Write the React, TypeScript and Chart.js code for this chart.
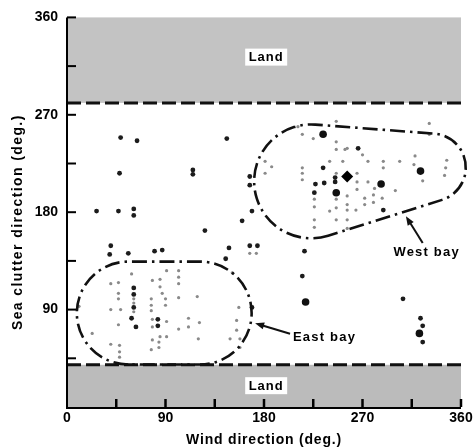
import React, { useEffect, useRef } from "react";
import { Chart, registerables } from "chart.js";

Chart.register(...registerables);

// ---- data (degrees) ----
const xTickValues = [0, 90, 180, 270, 360];
const yTickValues = [90, 180, 270, 360];
const minorTickValues = [45, 90, 135, 180, 225, 270, 315, 360];

const landTop = [281, 360];
const landBottom = [0, 39];

const smallDots = [
  // west bay cluster
  [246, 264], [331, 262], [211, 259], [215, 252], [225, 248], [331, 252], [246, 245], [246, 238], [254, 238],
  [270, 233], [275, 227], [181, 227], [187, 222], [181, 216], [215, 221], [215, 216], [215, 210], [252, 227],
  [240, 227], [246, 216], [265, 216], [265, 208], [265, 201], [275, 208], [281, 202], [280, 196], [280, 189],
  [288, 193], [300, 200], [289, 227], [289, 221], [304, 227], [318, 232], [317, 224], [347, 228], [346, 221],
  [345, 214], [325, 209], [256, 195], [256, 187], [256, 182], [264, 182], [256, 173], [256, 165], [226, 192],
  [226, 185], [226, 173], [226, 166], [246, 192], [246, 184], [246, 173], [240, 181], [272, 193], [272, 187],
  [256, 239], [167, 142], [173, 142],
  // east bay cluster
  [59, 123], [78, 117], [85, 118], [91, 126], [102, 126], [102, 120], [102, 114], [102, 101], [119, 102],
  [40, 114], [47, 115], [47, 105], [47, 100], [40, 90], [49, 90], [61, 100], [61, 96], [61, 88], [77, 100],
  [77, 94], [77, 89], [78, 81], [85, 111], [87, 105], [90, 100], [90, 94], [78, 74], [91, 79], [111, 82],
  [121, 78], [111, 74], [102, 72], [47, 76], [23, 68], [40, 58], [48, 57], [48, 51], [48, 46], [78, 62],
  [85, 65], [91, 65], [84, 60], [77, 53], [84, 55], [120, 63], [157, 92], [155, 80], [155, 71], [149, 63],
  [158, 63], [158, 55], [11, 93], [151, 124],
];

const mediumDots = [
  [49, 249], [64, 246], [146, 248], [48, 216], [115, 219], [115, 215], [27, 181], [47, 181], [61, 183],
  [61, 177], [126, 163], [167, 213], [167, 205], [169, 181], [160, 172], [148, 147], [145, 137], [40, 149],
  [39, 141], [56, 142], [80, 144], [87, 145], [167, 149], [174, 149], [217, 144], [215, 121], [307, 100],
  [323, 82], [325, 75], [325, 60], [227, 206], [226, 198], [234, 221], [235, 207], [245, 208], [245, 212],
  [266, 239], [61, 110], [61, 104], [61, 92], [59, 82], [63, 74], [83, 81], [83, 75], [169, 92], [289, 182],
];

const largeDots = [[234, 252], [323, 218], [287, 206], [246, 198], [322, 68], [218, 97]];
const diamondDots = [[256, 213]];

// region outlines: two circles joined by tangents [cx, cy, r] in degrees
const westBay = [[223, 208.5, 52], [333.4, 221.3, 31]];
const eastBay = [[56, 86.8, 47], [121.7, 86.8, 47]];

// annotations (degrees)
const westArrow = [[325, 151.5], [309.7, 176.3]];
const eastArrow = [[203.8, 67.7], [171.9, 77.4]];
const westLabel = ["West bay", 328.6, 142.6];
const eastLabel = ["East bay", 206.5, 64];
const landLabels = [["Land", 182, 323.3], ["Land", 182, 19.7]];

const FONT = "'Liberation Sans', Arial, sans-serif";

const toXY = (arr: number[][]) => arr.map(([x, y]) => ({ x, y }));

export default function App() {
  const ref = useRef<HTMLCanvasElement | null>(null);

  useEffect(() => {
    const canvas = ref.current;
    if (!canvas) return;

    const bgPlugin = {
      id: "bg",
      beforeDatasetsDraw(chart: any) {
        const { ctx, scales } = chart;
        const xs = scales.x, ys = scales.y;
        const x0 = xs.getPixelForValue(0), x1 = xs.getPixelForValue(360);
        ctx.save();
        // land bands
        const bands = [landTop, landBottom];
        bands.forEach((b, i) => {
          const yA = ys.getPixelForValue(b[1]);
          const yB = ys.getPixelForValue(b[0]);
          ctx.fillStyle = i === 0 ? "#c3c3c3" : "#bbbbbb";
          ctx.fillRect(x0, yA, x1 - x0, yB - yA);
        });
        // dashed boundaries
        ctx.strokeStyle = "#111";
        ctx.lineWidth = 3;
        ctx.setLineDash([14, 5]);
        [landTop[0], landBottom[1]].forEach((v) => {
          const y = ys.getPixelForValue(v);
          ctx.beginPath();
          ctx.moveTo(x0, y);
          ctx.lineTo(x1, y);
          ctx.stroke();
        });
        ctx.setLineDash([]);
        // Land labels
        ctx.font = `bold 13px ${FONT}`;
        (ctx as any).letterSpacing = "1px";
        ctx.textAlign = "center";
        ctx.textBaseline = "middle";
        landLabels.forEach(([t, vx, vy]) => {
          const px = xs.getPixelForValue(vx as number);
          const py = ys.getPixelForValue(vy as number);
          ctx.fillStyle = "#ffffff";
          ctx.fillRect(px - 21, py - 8.5, 42, 17);
          ctx.fillStyle = "#000";
          ctx.fillText(t as string, px, py + 0.5);
        });
        (ctx as any).letterSpacing = "0px";
        // axes lines
        const yBot = ys.getPixelForValue(0), yTop = ys.getPixelForValue(360);
        ctx.strokeStyle = "#000";
        ctx.lineWidth = 2;
        ctx.beginPath();
        ctx.moveTo(x0, yTop);
        ctx.lineTo(x0, yBot + 1);
        ctx.lineTo(x1, yBot + 1);
        ctx.stroke();
        // inward ticks
        ctx.lineWidth = 2;
        minorTickValues.forEach((v) => {
          const y = ys.getPixelForValue(v);
          ctx.beginPath();
          ctx.moveTo(x0, y);
          ctx.lineTo(x0 + 9, y);
          ctx.stroke();
        });
        ctx.lineWidth = 2.5;
        minorTickValues.forEach((v) => {
          const x = xs.getPixelForValue(v);
          ctx.beginPath();
          ctx.moveTo(x, yBot);
          ctx.lineTo(x, yBot - 8);
          ctx.stroke();
        });
        ctx.restore();
      },
      afterDatasetsDraw(chart: any) {
        const { ctx, scales } = chart;
        const xs = scales.x, ys = scales.y;
        const sx = (v: number) => xs.getPixelForValue(v);
        const sy = (v: number) => ys.getPixelForValue(v);
        const rpx = (r: number) => xs.getPixelForValue(r) - xs.getPixelForValue(0);
        ctx.save();
        // outlines
        ctx.strokeStyle = "#111";
        ctx.lineWidth = 2.6;
        ctx.setLineDash([15, 5, 2.5, 5]);
        [westBay, eastBay].forEach(([a, b]) => {
          const c1x = sx(a[0]), c1y = sy(a[1]), r1 = rpx(a[2]);
          const c2x = sx(b[0]), c2y = sy(b[1]), r2 = rpx(b[2]);
          const th = Math.atan2(c2y - c1y, c2x - c1x);
          const L = Math.hypot(c2x - c1x, c2y - c1y);
          const al = Math.acos((r1 - r2) / L);
          ctx.beginPath();
          ctx.arc(c1x, c1y, r1, th + al, th + 2 * Math.PI - al, false);
          ctx.arc(c2x, c2y, r2, th - al, th + al, false);
          ctx.closePath();
          ctx.stroke();
        });
        ctx.setLineDash([]);
        // arrows
        [westArrow, eastArrow].forEach(([t, h]) => {
          const tx = sx(t[0]), ty = sy(t[1]), hx = sx(h[0]), hy = sy(h[1]);
          const ang = Math.atan2(hy - ty, hx - tx);
          ctx.lineWidth = 2;
          ctx.beginPath();
          ctx.moveTo(tx, ty);
          ctx.lineTo(hx - 6 * Math.cos(ang), hy - 6 * Math.sin(ang));
          ctx.stroke();
          ctx.fillStyle = "#111";
          ctx.beginPath();
          ctx.moveTo(hx, hy);
          ctx.lineTo(hx - 9 * Math.cos(ang) + 3.5 * Math.sin(ang), hy - 9 * Math.sin(ang) - 3.5 * Math.cos(ang));
          ctx.lineTo(hx - 9 * Math.cos(ang) - 3.5 * Math.sin(ang), hy - 9 * Math.sin(ang) + 3.5 * Math.cos(ang));
          ctx.closePath();
          ctx.fill();
        });
        // labels
        ctx.fillStyle = "#000";
        ctx.font = `bold 13px ${FONT}`;
        (ctx as any).letterSpacing = "1.2px";
        ctx.textBaseline = "middle";
        ctx.textAlign = "center";
        ctx.fillText(westLabel[0] as string, sx(westLabel[1] as number), sy(westLabel[2] as number));
        ctx.textAlign = "left";
        ctx.fillText(eastLabel[0] as string, sx(eastLabel[1] as number), sy(eastLabel[2] as number));
        // axis titles
        const ca = chart.chartArea;
        ctx.font = `bold 14px ${FONT}`;
        ctx.textAlign = "center";
        (ctx as any).letterSpacing = "0.8px";
        ctx.fillText("Wind direction (deg.)", (ca.left + ca.right) / 2, 440);
        ctx.translate(18, (ca.top + ca.bottom) / 2 + 10);
        ctx.rotate(-Math.PI / 2);
        (ctx as any).letterSpacing = "1.4px";
        ctx.fillText("Sea clutter direction (deg.)", 0, 0);
        ctx.restore();
      },
    };

    const tickFont = { family: FONT, size: 14, weight: "bold" as const };

    const chart = new Chart(canvas, {
      type: "scatter",
      data: {
        datasets: [
          { data: toXY(diamondDots), pointStyle: "rectRot", pointRadius: 6, backgroundColor: "#000", borderWidth: 0 },
          { data: toXY(largeDots), pointRadius: 3.8, backgroundColor: "#111", borderWidth: 0 },
          { data: toXY(mediumDots), pointRadius: 2.4, backgroundColor: "#1c1c1c", borderWidth: 0 },
          { data: toXY(smallDots), pointRadius: 1.6, backgroundColor: "#8a8a8a", borderWidth: 0 },
        ],
      },
      options: {
        responsive: false,
        animation: false,
        layout: { padding: { top: 15, right: 15, left: 0, bottom: 0 } },
        plugins: { legend: { display: false }, tooltip: { enabled: false } },
        scales: {
          x: {
            type: "linear",
            min: 0,
            max: 360,
            afterFit: (s: any) => { s.height = 40; },
            afterBuildTicks: (s: any) => { s.ticks = xTickValues.map((v) => ({ value: v })); },
            grid: { display: false, drawTicks: false },
            border: { display: false },
            ticks: { font: tickFont, color: "#000", padding: 3, maxRotation: 0, autoSkip: false },
          },
          y: {
            type: "linear",
            min: 0,
            max: 360,
            afterFit: (s: any) => { s.width = 67; },
            afterBuildTicks: (s: any) => { s.ticks = yTickValues.map((v) => ({ value: v })); },
            grid: { display: false, drawTicks: false },
            border: { display: false },
            ticks: { font: tickFont, color: "#000", padding: 9, autoSkip: false },
          },
        },
      },
      plugins: [bgPlugin],
    });
    return () => chart.destroy();
  }, []);

  return (
    <div style={{ position: "absolute", left: 0, top: 0, width: 476, height: 447, background: "#fff" }}>
      <canvas ref={ref} width={476} height={447} style={{ display: "block" }} />
    </div>
  );
}
